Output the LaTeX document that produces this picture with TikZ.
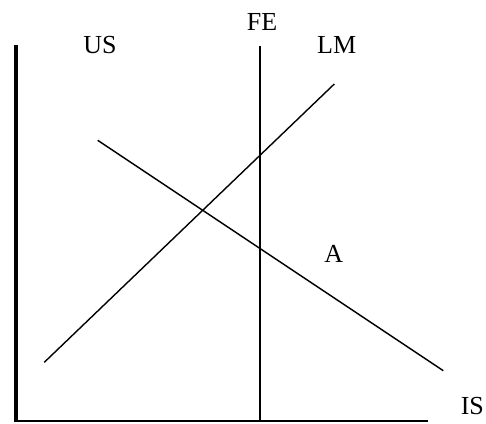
\documentclass[tikz,border=0pt]{standalone}
\usepackage{fontspec}
\setmainfont{Liberation Serif}
\begin{document}
\begin{tikzpicture}[x=1pt,y=-1pt,
  curve/.style={line width=1.4pt, line cap=butt},
  lbl/.style={inner sep=0pt, font=\fontsize{26}{30}\selectfont}]
\useasboundingbox (0,0) rectangle (486,423);
% axes
\coordinate (O) at (16,421);
\coordinate (Ytop) at (16,45);
\coordinate (Xend) at (428,421);
\draw[line width=4.5pt] (O) -- (Ytop);
\draw[line width=1.8pt] (14,421) -- (Xend);
% curves
\coordinate (FEtop) at (260,45.5);
\coordinate (FEbot) at (260,421);
\coordinate (LMa) at (44.3,362.3);
\coordinate (LMb) at (334.3,84);
\coordinate (ISa) at (97.7,140.3);
\coordinate (ISb) at (443.3,370.7);
\draw[curve] (FEbot) -- (FEtop);
\draw[curve] (LMa) -- (LMb);
\draw[curve] (ISa) -- (ISb);
% labels
\node[lbl] (us) at (100,45) {US};
\node[lbl] (fe) at (262,22) {FE};
\node[lbl] (lm) at (336.7,44.5) {LM};
\node[lbl] (a) at (333.7,253.7) {A};
\node[lbl] (is) at (472.3,405.7) {IS};
\end{tikzpicture}
\end{document}
